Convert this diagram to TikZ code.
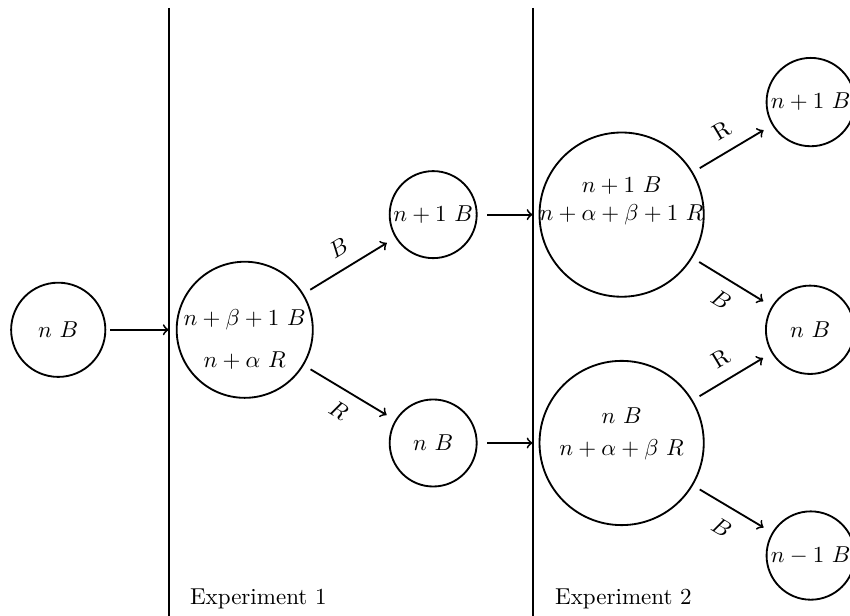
\documentclass[tikz,border=0pt]{standalone}
\usepackage{amsmath}
\usetikzlibrary{positioning}

\tikzset{
  state/.style={circle, draw, thick, inner sep=0pt},
  arr/.style={thick, -to, shorten >=0.15cm, shorten <=0.12cm},
  lab/.style={midway, sloped},
}

\begin{document}
\begin{tikzpicture}
    \useasboundingbox (0,0) rectangle (12.99,9.41);
    \clip (0,0) rectangle (12.99,9.41);
    % the two experiments
    \coordinate (L1top) at (2.58,9.29);
    \coordinate (L1bot) at (2.58,0);
    \coordinate (L2top) at (8.14,9.29);
    \coordinate (L2bot) at (8.14,0);
    \draw[thick] (L1top) -- (L1bot);
    \draw[thick] (L2top) -- (L2bot);
    \node[anchor=base west] (ex1) at (2.78,0.17) {Experiment 1};
    \node[anchor=base west] (ex2) at (8.36,0.17) {Experiment 2};

    % before
    \node[state, minimum size=1.44cm] (s0) at (0.89,4.37) {$n\ B$};
    \draw[thick, -to, shorten <=0.06cm] (s0) -- (s0 -| L1top);

    % experiment 1
    \node[state, minimum size=2.08cm] (s1) at (3.74,4.37) {};
    \node[align=center] (s1txt) at ([yshift=-0.15cm]s1) {$n+\beta+1\ B$\\[6pt]$n+\alpha\ R$};
    \node[state, minimum size=1.33cm] (s1b) at (6.62,6.13) {$n+1\ B$};
    \node[state, minimum size=1.33cm] (s1r) at (6.62,2.64) {$n\ B$};
    \draw[arr] (s1) -- node[lab, above=2pt] {$B$} (s1b);
    \draw[arr] (s1) -- node[lab, below=2pt] {$R$} (s1r);
    \draw[thick, -to, shorten <=0.15cm] (s1b) -- (s1b -| L2top);
    \draw[thick, -to, shorten <=0.15cm] (s1r) -- (s1r -| L2top);

    % experiment 2
    \node[state, minimum size=2.51cm] (s2b) at (9.50,6.13) {};
    \node[align=center] (s2btxt) at ([yshift=0.21cm]s2b) {$n+1\ B$\\$n+\alpha+\beta+1\ R$};
    \node[state, minimum size=2.51cm] (s2r) at (9.50,2.64) {};
    \node[align=center] (s2rtxt) at ([yshift=0.14cm]s2r) {$n\ B$\\[2pt]$n+\alpha+\beta\ R$};
    \node[state, minimum size=1.35cm] (t1) at (12.39,7.85) {$n+1\ B$};
    \node[state, minimum size=1.35cm] (t2) at (12.38,4.37) {$n\ B$};
    \node[state, minimum size=1.35cm] (t3) at (12.39,0.92) {$n-1\ B$};
    \draw[arr] (s2b) -- node[lab, above=2pt] {R} (t1);
    \draw[arr] (s2b) -- node[lab, below=2pt] {$B$} (t2);
    \draw[arr] (s2r) -- node[lab, above=2pt] {R} (t2);
    \draw[arr] (s2r) -- node[lab, below=2pt] {$B$} (t3);
\end{tikzpicture}
\end{document}
